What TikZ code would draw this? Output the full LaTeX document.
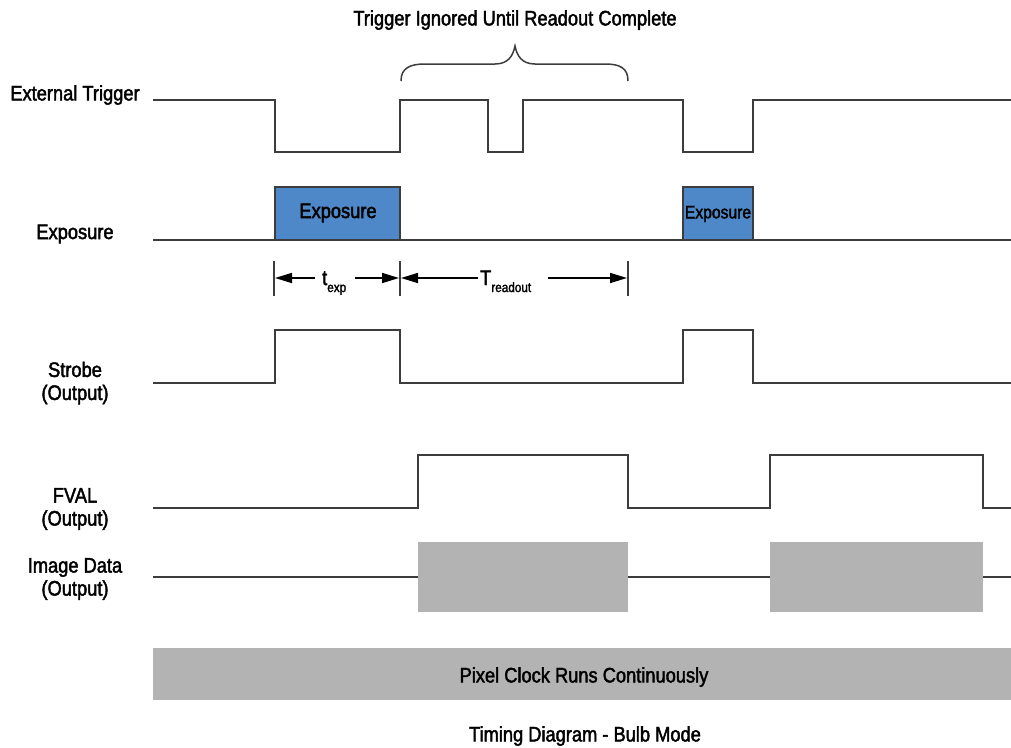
\documentclass[tikz,border=0pt]{standalone}
\usepackage{fontspec}
\setmainfont{Liberation Sans}[FakeStretch=0.87,FakeBold=2]
\usetikzlibrary{arrows.meta}
\definecolor{wave}{HTML}{3C3C3C}
\definecolor{expblue}{HTML}{4F88C8}
\definecolor{datagray}{HTML}{B3B3B3}
\tikzset{
  sig/.style={draw=wave, line width=1.5pt, line join=miter},
  lbl/.style={font=\fontsize{21}{23}\selectfont, align=center, inner sep=0pt, text=black},
  expbox/.style={fill=expblue, draw=wave, line width=1.5pt},
  dimtick/.style={draw=wave, line width=1.1pt},
  dimarrow/.style={draw=black, line width=1.6pt, -{Triangle[length=17pt,width=10pt]}},
}
\begin{document}
\begin{tikzpicture}[x=1pt,y=-1pt]
\useasboundingbox (0,0) rectangle (1011,747);

% ---- labels
\node[lbl] (lTrig) at (75,95) {External Trigger};
\node[lbl] (lExp) at (75,234) {Exposure};
\node[lbl] (lStr) at (75,383) {Strobe\\(Output)};
\node[lbl] (lFval) at (75,509) {FVAL\\(Output)};
\node[lbl] (lImg) at (75,579) {Image Data\\(Output)};

% ---- top annotation
\node[lbl] (ign) at (515,20) {Trigger Ignored Until Readout Complete};
\draw[sig] (401,81) .. controls (401,68) and (410,64) .. (425,64)
  -- (495,64) .. controls (508,64) and (513,56) .. (515,46)
  .. controls (517,56) and (522,64) .. (535,64)
  -- (605,64) .. controls (620,64) and (628,68) .. (628,81);

% ---- External trigger
\draw[sig] (153,100) -- (275,100) -- (275,152) -- (400,152) -- (400,100)
  -- (488,100) -- (488,152) -- (523,152) -- (523,100) -- (683,100)
  -- (683,152) -- (753,152) -- (753,100) -- (1011,100);

% ---- Exposure
\draw[sig] (153,240) -- (1011,240);
\draw[expbox] (275,240) rectangle (400,187);
\draw[expbox] (683,240) rectangle (753,187);
\node[lbl] (e1) at (338,213) {Exposure};
\node[lbl, font=\fontsize{18}{20}\selectfont] (e2) at (718,214) {Exposure};

% ---- dimension lines
\draw[dimtick] (274,261) -- (274,296);
\draw[dimtick] (400,261) -- (400,296);
\draw[dimtick] (628,261) -- (628,296);
\coordinate (a1) at (275,278);
\coordinate (a2) at (399,278);
\coordinate (a3) at (401,278);
\coordinate (a4) at (627,278);
\coordinate (s1) at (315,278);
\coordinate (s2) at (355,278);
\coordinate (s3) at (478,278);
\coordinate (s4) at (548,278);
\node[lbl, anchor=base west] (texp) at (322,285) {t\raisebox{-7pt}{\fontsize{13.5}{14}\selectfont exp}};
\node[lbl, anchor=base west] (tread) at (480,285) {T\raisebox{-7pt}{\fontsize{13.5}{14}\selectfont readout}};
\draw[dimarrow] (s1) -- (a1);
\draw[dimarrow] (s2) -- (a2);
\draw[dimarrow] (s3) -- (a3);
\draw[dimarrow] (s4) -- (a4);

% ---- Strobe
\draw[sig] (153,383) -- (275,383) -- (275,330) -- (400,330) -- (400,383)
  -- (683,383) -- (683,330) -- (753,330) -- (753,383) -- (1011,383);

% ---- FVAL
\draw[sig] (153,508) -- (418,508) -- (418,455) -- (628,455) -- (628,508)
  -- (770,508) -- (770,455) -- (983,455) -- (983,508) -- (1011,508);

% ---- Image data
\draw[sig] (153,577) -- (1011,577);
\fill[datagray] (418,542) rectangle (628,612);
\fill[datagray] (770,542) rectangle (983,612);

% ---- Pixel clock
\fill[datagray] (153,648) rectangle (1011,700);
\node[lbl] (pix) at (584,677) {Pixel Clock Runs Continuously};

% ---- caption
\node[lbl] (cap) at (585,736) {Timing Diagram - Bulb Mode};
\end{tikzpicture}
\end{document}
